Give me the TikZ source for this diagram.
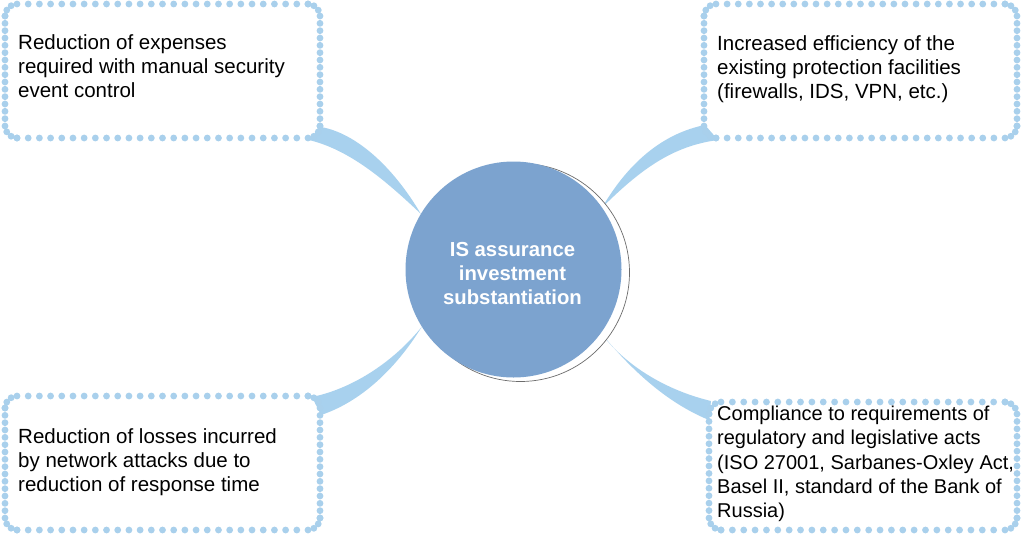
\documentclass[tikz,border=0pt]{standalone}
\usepackage{fontspec}
\newfontfamily\arialf{Liberation Sans}
\usetikzlibrary{calc}
\definecolor{dotblue}{HTML}{A9D0EC}
\definecolor{wedgeblue}{HTML}{A8D1EE}
\definecolor{circblue}{HTML}{7CA3CF}
\pgfdeclarelayer{bg}
\pgfdeclarelayer{wedge}
\pgfsetlayers{bg,wedge,main}
\tikzset{
  boxshape/.style={rectangle, inner sep=0pt, draw=none},
  dotline/.style={draw=dotblue, line width=6.8pt, line cap=round},
  boxtext/.style={anchor=north west, inner sep=0pt, align=left, text=black,
    font=\arialf\fontsize{20.5}{24.3}\selectfont},
  wedgefill/.style={fill=wedgeblue, draw=none},
}
\newcommand\dotbox[5]{%
  \pgfmathsetmacro\bxw{#4-#2}\pgfmathsetmacro\bxh{#5-#3}%
  \node[boxshape, minimum width=\bxw pt, minimum height=\bxh pt] (#1) at ({(#2+#4)/2},{(#3+#5)/2}) {};
  \pgfmathsetmacro\hl{#4-#2-24}\pgfmathsetmacro\hs{\hl/round(\hl/11.3)}%
  \pgfmathsetmacro\vl{#5-#3-24}\pgfmathsetmacro\vs{\vl/round(\vl/7.5)}%
  \draw[dotline, dash pattern=on 0pt off \hs pt] ({#2+12},#3) -- ({#4-12},#3);
  \draw[dotline, dash pattern=on 0pt off \hs pt] ({#2+12},#5) -- ({#4-12},#5);
  \draw[dotline, dash pattern=on 0pt off \vs pt] (#2,{#3+12}) -- (#2,{#5-12});
  \draw[dotline, dash pattern=on 0pt off \vs pt] (#4,{#3+12}) -- (#4,{#5-12});
  \draw[dotline, dash pattern=on 0pt off 6.28pt, rounded corners=12pt] (#2,{#3+12}) -- (#2,#3) -- ({#2+12},#3);
  \draw[dotline, dash pattern=on 0pt off 6.28pt, rounded corners=12pt] ({#4-12},#3) -- (#4,#3) -- (#4,{#3+12});
  \draw[dotline, dash pattern=on 0pt off 6.28pt, rounded corners=12pt] (#4,{#5-12}) -- (#4,#5) -- ({#4-12},#5);
  \draw[dotline, dash pattern=on 0pt off 6.28pt, rounded corners=12pt] ({#2+12},#5) -- (#2,#5) -- (#2,{#5-12});
}
\begin{document}
\begin{tikzpicture}[x=1pt, y=-1pt]
\begin{pgfonlayer}{bg}
  \fill[white] (0,0) rectangle (1024,536);
\end{pgfonlayer}
\useasboundingbox (0,0) rectangle (1024,536);

% central circle with shadow
\node[circle, minimum size=218pt, inner sep=0pt, fill=white, draw=gray!85!black, line width=0.7pt] (cs) at (520.5,272.5) {};
\node[circle, minimum size=216pt, inner sep=0pt, fill=circblue, draw=none] (c) at (513.5,269.5) {};
\node[font=\arialf\bfseries\fontsize{20.3}{24}\selectfont, text=white, align=center, inner sep=0pt] (ct) at (512.5,274) {IS assurance\\investment\\substantiation};

% boxes
\dotbox{tl}{5}{4}{320}{138}
\dotbox{tr}{704}{4}{1017}{138}
\dotbox{bl}{5}{396}{320}{530}
\dotbox{br}{709}{402}{1017}{530}

\node[boxtext] (tlt) at (18,34.3) {Reduction of expenses\\required with manual security\\event control};
\node[boxtext] (trt) at (717,35.3) {Increased efficiency of the\\existing protection facilities\\(firewalls, IDS, VPN, etc.)};
\node[boxtext] (blt) at (18,428) {Reduction of losses incurred\\by network attacks due to\\reduction of response time};
\node[boxtext, font=\arialf\fontsize{20}{24.4}\selectfont] (brt) at (717,405.5) {Compliance to requirements of\\regulatory and legislative acts\\(ISO 27001, Sarbanes-Oxley Act,\\Basel II, standard of the Bank of\\Russia)};

% wedge connectors
\coordinate (tla) at (321,127);
\coordinate (tlb) at (309,140);
\coordinate (tra) at (705,125);
\coordinate (trb) at (718,140);
\coordinate (bla) at (312,397);
\coordinate (blb) at (321,415);
\coordinate (bra) at (711,401);
\coordinate (brb) at (709,420);
\begin{pgfonlayer}{wedge}
  \fill[wedgefill] (tla) .. controls (355,133) and (392,165) .. (c.149) .. controls (385,180) and (350,150) .. (tlb) -- cycle;
  \fill[wedgefill] (tra) .. controls (665,133) and (630,160) .. (c.35) .. controls (640,170) and (672,146) .. (trb) -- cycle;
  \fill[wedgefill] (c.212) .. controls (395,360) and (355,388) .. (bla) -- (blb) .. controls (360,402) and (395,370) .. (c.212) -- cycle;
  \fill[wedgefill] (c.324) .. controls (625,365) and (665,390) .. (bra) -- (brb) .. controls (665,402) and (630,368) .. (c.324) -- cycle;
\end{pgfonlayer}
\end{tikzpicture}
\end{document}
